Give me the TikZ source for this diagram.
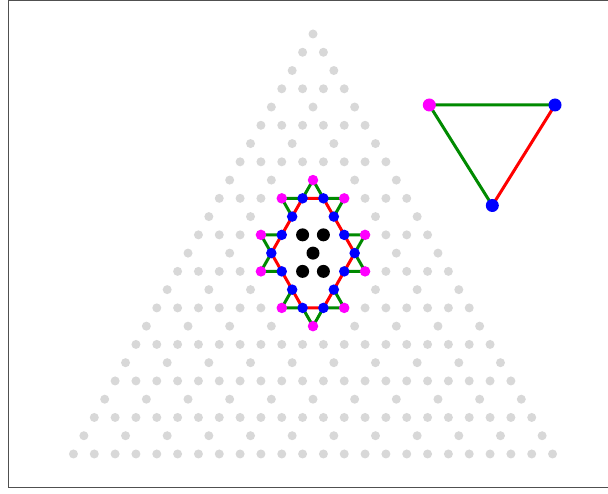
\documentclass[tikz,border=0pt]{standalone}
\definecolor{latgray}{RGB}{216,216,216}
\definecolor{mygreen}{RGB}{0,138,0}
\definecolor{mymagenta}{RGB}{255,0,255}
\definecolor{myblue}{RGB}{0,0,255}
\definecolor{framegray}{RGB}{80,80,80}
\begin{document}
\begin{tikzpicture}[x=1pt,y=-1pt]
\tikzset{
  gdot/.style={fill=latgray},
  edgeg/.style={draw=mygreen, line width=3pt},
  edger/.style={draw=red, line width=3pt},
  framestyle/.style={draw=framegray, line width=1.4pt},
  bdot/.style={circle, fill=myblue, inner sep=0pt, minimum size=10.5pt},
  mdot/.style={circle, fill=mymagenta, inner sep=0pt, minimum size=10.5pt},
  kdot/.style={circle, fill=black, inner sep=0pt, minimum size=13pt},
  bigb/.style={circle, fill=myblue, inner sep=0pt, minimum size=13pt},
  bigm/.style={circle, fill=mymagenta, inner sep=0pt, minimum size=13pt},
}
\useasboundingbox (0,0) rectangle (608,494);
% frame
\coordinate (F1) at (608,0.7);
\coordinate (F2) at (8.5,0.7);
\coordinate (F3) at (8.5,487.3);
\coordinate (F4) at (608,487.3);
\draw[framestyle] (F1) -- (F2) -- (F3) -- (F4);
% lattice
\foreach \r in {0,...,23}{
  \foreach \j in {0,...,\r}{
    \pgfmathsetmacro\px{313+(\j-\r/2)*20.83}
    \pgfmathsetmacro\py{34+\r*18.26}
    \coordinate (p\r-\j) at (\px,\py);
    \pgfmathtruncatemacro\hole{and(iseven(\r),isodd(\j))}
    \ifnum\hole=0 \fill[gdot] (p\r-\j) circle[radius=4.5pt]; \fi
  }
}
% green triangles
\draw[edgeg] (p9-4) -- (p8-4) -- (p9-5);
\draw[edgeg] (p9-4) -- (p9-3) -- (p10-4);
\draw[edgeg] (p9-5) -- (p9-6) -- (p10-6);
\draw[edgeg] (p11-4) -- (p11-3) -- (p12-4);
\draw[edgeg] (p11-7) -- (p11-8) -- (p12-8);
\draw[edgeg] (p12-4) -- (p13-4) -- (p13-5);
\draw[edgeg] (p12-8) -- (p13-9) -- (p13-8);
\draw[edgeg] (p14-6) -- (p15-6) -- (p15-7);
\draw[edgeg] (p14-8) -- (p15-9) -- (p15-8);
\draw[edgeg] (p15-7) -- (p16-8) -- (p15-8);
% red loop
\draw[edger] (p9-4) -- (p9-5) -- (p10-6) -- (p11-7) -- (p12-8) -- (p13-8) -- (p14-8)
  -- (p15-8) -- (p15-7) -- (p14-6) -- (p13-5) -- (p12-4) -- (p11-4) -- (p10-4) -- cycle;
% blue vertices
\foreach \n/\c in {B1/p9-4,B2/p9-5,B3/p10-6,B4/p11-7,B5/p12-8,B6/p13-8,B7/p14-8,
  B8/p15-8,B9/p15-7,B10/p14-6,B11/p13-5,B12/p12-4,B13/p11-4,B14/p10-4}
  \node[bdot] (\n) at (\c) {};
% magenta tips
\foreach \n/\c in {M1/p8-4,M2/p9-3,M3/p9-6,M4/p11-3,M5/p11-8,M6/p13-4,M7/p13-9,
  M8/p15-6,M9/p15-9,M10/p16-8}
  \node[mdot] (\n) at (\c) {};
% black inner dots
\foreach \n/\c in {K1/p11-5,K2/p11-6,K3/p12-6,K4/p13-6,K5/p13-7}
  \node[kdot] (\n) at (\c) {};
% inset triangle
\coordinate (T1) at (429.3,105);
\coordinate (T2) at (555,105);
\coordinate (T3) at (492.3,205.5);
\draw[edgeg] (T2) -- (T1) -- (T3);
\draw[edger] (T2) -- (T3);
\node[bigm] (TM) at (T1) {};
\node[bigb] (TB1) at (T2) {};
\node[bigb] (TB2) at (T3) {};
\end{tikzpicture}
\end{document}
